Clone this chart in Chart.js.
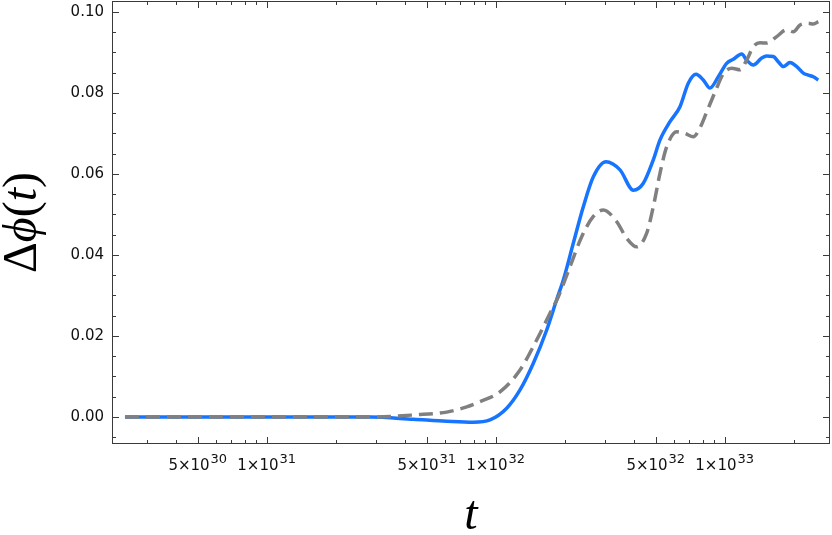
<!DOCTYPE html>
<html>
<head>
<meta charset="utf-8">
<script src="https://cdn.jsdelivr.net/npm/chart.js@4.4.0/dist/chart.umd.min.js"></script>
<style>
  html, body { margin: 0; padding: 0; background: #fff; }
  canvas { display: block; }
</style>
</head>
<body>
<canvas id="phaseChart" width="832" height="535"></canvas>
<script>
// values
const blueT = [2.405e30, 5.114e30, 1.398e31, 2.826e31, 4.367e31, 6.109e31, 7.985e31, 9.443e31,
  1.117e32, 1.277e32, 1.460e32, 1.670e32, 1.847e32, 1.974e32, 2.182e32, 2.413e32, 2.669e32,
  3.032e32, 3.490e32, 3.991e32, 4.412e32, 4.878e32, 5.219e32, 5.770e32, 6.379e32, 6.934e32,
  7.494e32, 8.063e32, 8.626e32, 9.378e32, 1.020e33, 1.090e33, 1.186e33, 1.247e33, 1.333e33,
  1.451e33, 1.525e33, 1.630e33, 1.714e33, 1.803e33, 1.928e33, 2.063e33, 2.204e33, 2.318e33,
  2.438e33, 2.563e33];
const blueDelta = [0, 0, 0, 0, -0.00057, -0.00106, -0.00131, -0.00074,
  0.00215, 0.00667, 0.01326, 0.02148, 0.0290, 0.0338, 0.0429, 0.0519, 0.0593,
  0.0630, 0.0610, 0.0560, 0.0577, 0.0635, 0.0684, 0.0729, 0.0766, 0.0824,
  0.0846, 0.0832, 0.0812, 0.0840, 0.0873, 0.0883, 0.0896, 0.0881, 0.0869,
  0.0886, 0.0891, 0.0890, 0.0877, 0.0865, 0.0875, 0.0865, 0.0849, 0.0844,
  0.0840, 0.0832];

const grayT = [2.405e30, 5.114e30, 1.398e31, 2.733e31, 3.454e31, 4.367e31, 6.109e31, 7.472e31,
  8.540e31, 1.044e32, 1.277e32, 1.510e32, 1.726e32, 1.877e32, 2.111e32, 2.374e32, 2.669e32,
  2.951e32, 3.377e32, 3.734e32, 4.128e32, 4.565e32, 4.878e32, 5.219e32, 5.581e32, 6.171e32,
  6.708e32, 7.296e32, 7.801e32, 8.345e32, 9.071e32, 9.860e32, 1.073e33, 1.167e33, 1.247e33,
  1.333e33, 1.426e33, 1.525e33, 1.687e33, 1.865e33, 1.994e33, 2.133e33, 2.318e33, 2.438e33,
  2.563e33];
const grayDelta = [0, 0, 0, 0, 0.00012, 0.0005, 0.0012, 0.0025,
  0.0038, 0.0062, 0.0116, 0.0190, 0.0256, 0.0297, 0.0371, 0.0445, 0.0495,
  0.0511, 0.0482, 0.0441, 0.0420, 0.0454, 0.0519, 0.0602, 0.0667, 0.0704,
  0.0700, 0.0692, 0.0714, 0.0753, 0.0802, 0.0847, 0.0861, 0.0857, 0.0881,
  0.0914, 0.0924, 0.0923, 0.0939, 0.0956, 0.0951, 0.0968, 0.0972, 0.0970,
  0.0976];

const xLabelValues = [5e30, 1e31, 5e31, 1e32, 5e32, 1e33];
const yTitleParts = [['Δ', 'normal'], ['ϕ', 'italic'], ['(', 'normal'], ['t', 'italic'], [')', 'normal']];

const serif = "'Liberation Serif', 'DejaVu Serif', serif";
const sans = "'DejaVu Sans', sans-serif";

function noPadding(scale) {
  scale.paddingTop = 0;
  scale.paddingBottom = 0;
  scale.paddingLeft = 0;
  scale.paddingRight = 0;
}

// frame with inward ticks, x labels with superscripts, y title
const framePlugin = {
  id: 'frame',
  afterDraw(chart) {
    const { ctx, chartArea: a, scales: { x, y } } = chart;
    ctx.save();
    ctx.strokeStyle = '#3a3a3a';
    ctx.lineWidth = 1;
    ctx.strokeRect(a.left + 0.5, a.top + 0.5, a.right - a.left - 1, a.bottom - a.top - 1);

    ctx.beginPath();
    for (let e = 30; e <= 33; e++) {
      for (let m = 1; m <= 9; m++) {
        const v = m * 10 ** e;
        if (v < x.min || v > x.max) continue;
        const px = Math.round(x.getPixelForValue(v)) + 0.5;
        const len = (m === 1 || m === 5) ? 7 : 4;
        ctx.moveTo(px, a.bottom); ctx.lineTo(px, a.bottom - len);
        ctx.moveTo(px, a.top); ctx.lineTo(px, a.top + len);
      }
    }
    for (let k = -2; k <= 22; k++) {
      const v = k * 0.005;
      if (v < y.min || v > y.max) continue;
      const py = Math.round(y.getPixelForValue(v)) + 0.5;
      const len = k % 4 === 0 ? 7 : 4;
      ctx.moveTo(a.left, py); ctx.lineTo(a.left + len, py);
      ctx.moveTo(a.right, py); ctx.lineTo(a.right - len, py);
    }
    ctx.stroke();

    ctx.fillStyle = '#111';
    ctx.textBaseline = 'alphabetic';
    ctx.textAlign = 'left';
    xLabelValues.forEach((v) => {
      const e = Math.floor(Math.log10(v) + 1e-9);
      const m = Math.round(v / 10 ** e);
      const main = m + '×10';
      const exp = String(e);
      ctx.font = '15px ' + sans;
      const w1 = ctx.measureText(main).width;
      ctx.font = '13px ' + sans;
      const w2 = ctx.measureText(exp).width;
      const start = x.getPixelForValue(v) - (w1 + 1 + w2) / 2;
      ctx.font = '15px ' + sans;
      ctx.fillText(main, start, 470);
      ctx.font = '13px ' + sans;
      ctx.fillText(exp, start + w1 + 1, 463);
    });

    ctx.translate(36, (a.top + a.bottom) / 2);
    ctx.rotate(-Math.PI / 2);
    ctx.fillStyle = '#000';
    let total = 0;
    const widths = yTitleParts.map(([s, st]) => {
      ctx.font = st + ' 48px ' + serif;
      const w = ctx.measureText(s).width;
      total += w;
      return w;
    });
    let cx = -total / 2;
    yTitleParts.forEach(([s, st], i) => {
      ctx.font = st + ' 48px ' + serif;
      ctx.fillText(s, cx, 0);
      cx += widths[i];
    });
    ctx.restore();
  },
};

new Chart(document.getElementById('phaseChart'), {
  type: 'line',
  data: {
    datasets: [
      {
        label: 'solid',
        data: blueT.map((t, i) => ({ x: t, y: blueDelta[i] })),
        borderColor: '#1674ff',
        borderWidth: 3.5,
        borderJoinStyle: 'round',
        cubicInterpolationMode: 'monotone',
        pointRadius: 0,
        order: 1,
      },
      {
        label: 'dashed',
        data: grayT.map((t, i) => ({ x: t, y: grayDelta[i] })),
        borderColor: '#808080',
        borderWidth: 3.5,
        borderDash: [14, 7],
        cubicInterpolationMode: 'monotone',
        pointRadius: 0,
        order: 0,
      },
    ],
  },
  options: {
    responsive: false,
    animation: false,
    devicePixelRatio: 1,
    layout: { padding: { top: 1, right: 2, left: 0, bottom: 0 } },
    plugins: { legend: { display: false }, tooltip: { enabled: false } },
    scales: {
      x: {
        type: 'logarithmic',
        min: 2.111e30,
        max: 2.883e33,
        grid: { display: false, drawTicks: false },
        border: { display: false },
        ticks: { display: false },
        title: {
          display: true,
          text: 't',
          color: '#000',
          font: { family: serif, size: 48, style: 'italic', lineHeight: 1 },
          padding: { top: 0, bottom: -5 },
        },
        afterFit(scale) { scale.height = 91; noPadding(scale); },
      },
      y: {
        min: -0.00667,
        max: 0.1027,
        grid: { display: false, drawTicks: false },
        border: { display: false },
        ticks: {
          stepSize: 0.02,
          includeBounds: false,
          padding: 8,
          color: '#111',
          font: { family: sans, size: 15 },
          callback: (v) => v.toFixed(2),
        },
        afterFit(scale) { scale.width = 112; noPadding(scale); },
      },
    },
  },
  plugins: [framePlugin],
});
</script>
</body>
</html>
